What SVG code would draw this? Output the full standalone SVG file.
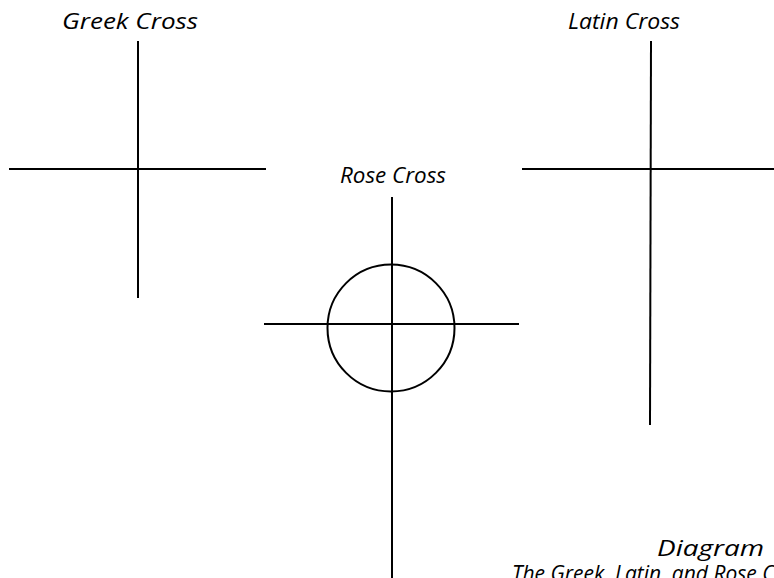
<svg xmlns="http://www.w3.org/2000/svg" width="774" height="578" viewBox="0 0 774 578">
<style>
.ln{stroke:#000;stroke-width:2;fill:none}
.lb{font-family:"Open Sans","Noto Sans",sans-serif;font-style:italic;font-size:21px;fill:#000}
</style>
<rect width="774" height="578" fill="#fff"/>
<g id="greek-cross">
<line class="ln" x1="138" y1="41" x2="138" y2="298"/>
<line class="ln" x1="9" y1="169" x2="266" y2="169"/>
<text class="lb" x="62" y="29" textLength="136" lengthAdjust="spacingAndGlyphs">Greek Cross</text>
</g>
<g id="latin-cross">
<line class="ln" x1="651" y1="41" x2="650" y2="425"/>
<line class="ln" x1="522" y1="169" x2="774" y2="169"/>
<text class="lb" x="568" y="29" textLength="112" lengthAdjust="spacingAndGlyphs">Latin Cross</text>
</g>
<g id="rose-cross">
<line class="ln" x1="392" y1="197" x2="392" y2="578"/>
<line class="ln" x1="264" y1="324" x2="519" y2="324"/>
<circle class="ln" cx="391" cy="328" r="63.5"/>
<text class="lb" x="340" y="183" textLength="106" lengthAdjust="spacingAndGlyphs">Rose Cross</text>
</g>
<g id="caption">
<text class="lb" x="657" y="556" textLength="107" lengthAdjust="spacingAndGlyphs">Diagram</text>
<text class="lb" x="512" y="581">The Greek, Latin, and Rose Crosses</text>
</g>
</svg>
